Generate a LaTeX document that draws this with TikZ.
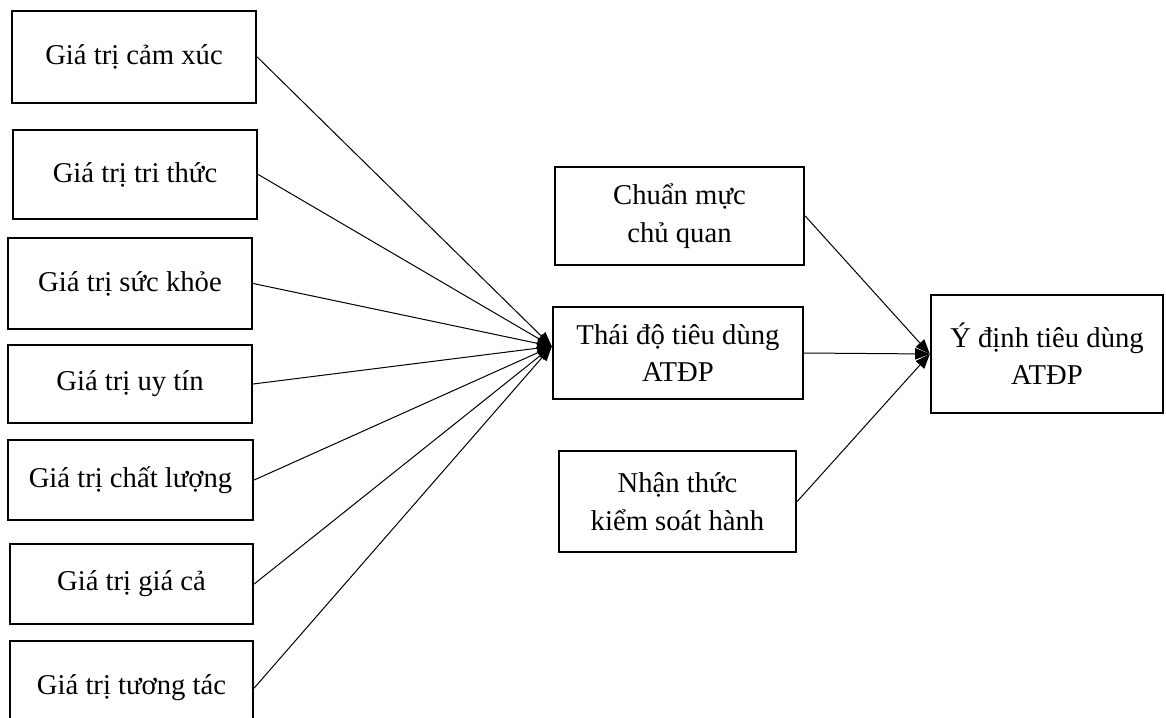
\documentclass[tikz,border=0pt]{standalone}
\usepackage{fontspec}
\setmainfont{Liberation Serif}
\usetikzlibrary{arrows.meta}
\begin{document}
\begin{tikzpicture}[x=0.75pt,y=-0.75pt,
  box/.style={draw, line width=1.8pt, rectangle, align=center, inner sep=0pt,
              font=\fontsize{21.5}{28}\selectfont},
  conn/.style={line width=0.75pt, -{Triangle[length=11pt,width=8.5pt]}}]
\useasboundingbox (0,0) rectangle (1166,717);
% left column
\node[box, minimum width=183pt, minimum height=69pt]    (b1) at (134,57)    {Giá trị cảm xúc};
\node[box, minimum width=183pt, minimum height=66.75pt] (b2) at (135,174.5) {Giá trị tri thức};
\node[box, minimum width=183pt, minimum height=68.25pt] (b3) at (130,283.5) {Giá trị sức khỏe};
\node[box, minimum width=183pt, minimum height=58.5pt]  (b4) at (130,384)   {Giá trị uy tín};
\node[box, minimum width=183.75pt, minimum height=60pt] (b5) at (130.5,480) {Giá trị chất lượng};
\node[box, minimum width=182.25pt, minimum height=60pt] (b6) at (131.5,584) {Giá trị giá cả};
\node[box, minimum width=182.25pt, minimum height=70.5pt] (b7) at (131.5,688) {Giá trị tương tác};
% middle column
\node[box, minimum width=186.75pt, minimum height=73.5pt] (cm) at (679.5,216) {Chuẩn mực\\chủ quan};
\node[box, minimum width=187.5pt, minimum height=69pt]    (td) at (678,353)   {Thái độ tiêu dùng\\ATĐP};
\node[box, minimum width=177.75pt, minimum height=75.75pt] (nt) at (677.5,501.5) {Nhận thức\\kiểm soát hành};
% right
\node[box, minimum width=174pt, minimum height=88.5pt] (yd) at (1047,354) {Ý định tiêu dùng\\ATĐP};
% connectors
\foreach \b in {b1,b2,b3,b4,b5,b6,b7}
  \draw[conn] (\b.east) -- (td.177);
\draw[conn] (cm.east) -- (yd.west);
\draw[conn] (td.east) -- (yd.west);
\draw[conn] (nt.east) -- (yd.west);
\end{tikzpicture}
\end{document}
